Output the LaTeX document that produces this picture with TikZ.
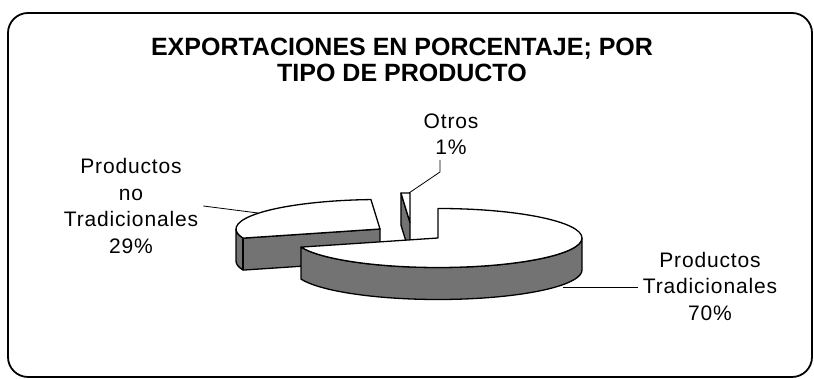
\documentclass[tikz,border=0pt]{standalone}
\usepackage{fontspec}
\setmainfont{Liberation Sans}
\newfontfamily\labelfont{Liberation Sans}[LetterSpace=4]

\begin{document}
\begin{tikzpicture}[
    x=1pt,y=1pt,
    rim/.style={x radius=144pt,y radius=29.5pt},
    pietop/.style={fill=white,draw=black,line width=1.3pt,line join=round},
    pieside/.style={fill=black!55,draw=black,line width=1.3pt,line join=round},
    piename/.style={font={\labelfont\fontsize{21}{26.5}\selectfont},
        align=center,inner sep=5pt},
    leader/.style={line width=.8pt},
    ]
    \useasboundingbox (0,0) rectangle (814,379);
    % Round frame
    \draw[line width=1.8pt,rounded corners=20pt] (8,2) rectangle (812,366);
    % Title
    \node[font={\bfseries\fontsize{25}{26}\selectfont},align=center]
        (title) at (402,319) {EXPORTACIONES EN PORCENTAJE; POR\\TIPO DE PRODUCTO};
    % Apex of each slice
    \coordinate (C) at (438,141);
    \coordinate (D) at (380,150);
    \coordinate (E) at (410,156.5);
    % No tradicionales (29%)
    \draw[pieside] (D) ++(180:144pt and 29.5pt) arc[rim,start angle=180,end angle=198]
        -- (D) -- ++(0,-32) -- ++(198:144pt and 29.5pt)
        arc[rim,start angle=198,end angle=180] -- cycle;
    \draw[line width=1.3pt] (D) ++(198:144pt and 29.5pt) -- ++(0,-32);
    \draw[pietop] (D) -- ++(93.6:144pt and 29.5pt)
        arc[rim,start angle=93.6,end angle=198] -- cycle;
    % Otros (1%)
    \draw[pieside] (E) -- ++(0,-32) -- ++(93.6:144pt and 29.5pt) -- ++(0,32) -- cycle;
    \draw[pietop] (E) -- ++(90:144pt and 29.5pt)
        arc[rim,start angle=90,end angle=93.6] -- cycle;
    % Tradicionales (70%)
    \draw[pieside] (C) ++(0:144pt and 29.5pt) arc[rim,start angle=0,end angle=-162]
        -- ++(0,-32) arc[rim,start angle=-162,end angle=0] -- cycle;
    \draw[pietop] (C) -- ++(90:144pt and 29.5pt)
        arc[rim,start angle=90,end angle=-162] -- cycle;
    % Labels
    \node[piename] (lblN) at (131,173) {Productos\\no\\Tradicionales\\29\%};
    \node[piename] (lblO) at (451,245) {Otros\\1\%};
    \node[piename] (lblT) at (710,93) {Productos\\Tradicionales\\70\%};
    % Leader lines
    \coordinate (pN) at (258,166);
    \coordinate (pO) at (409,186);
    \coordinate (kO) at (440,207);
    \coordinate (pT) at (563,92);
    \draw[leader] (lblN.east) -- (pN);
    \draw[leader] (pO) -- (kO) -- (kO |- lblO.south);
    \draw[leader] (pT) -- (pT -| lblT.west);
\end{tikzpicture}
\end{document}
